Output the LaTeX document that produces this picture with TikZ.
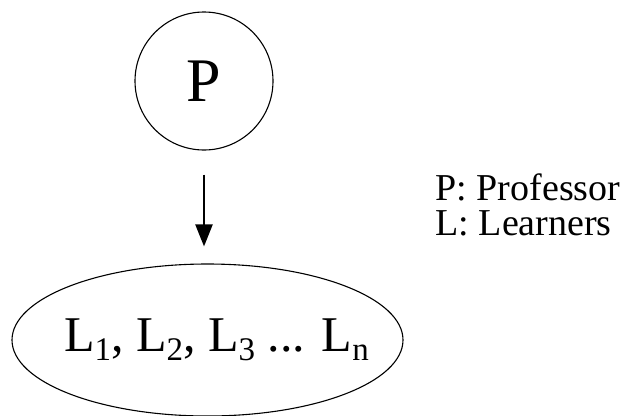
\documentclass[tikz,border=0pt]{standalone}
\usepackage{fontspec}
\setmainfont{Liberation Serif}
\usetikzlibrary{arrows.meta, positioning, shapes.geometric}
\newcommand{\lsub}[1]{\raisebox{-9pt}{\fontsize{33}{33}\selectfont #1}}

\begin{document}
\begin{tikzpicture}[x=1pt,y=-1pt]
    \useasboundingbox (0,0) rectangle (628,415);
    \node[draw,line width=1.1pt,circle,minimum size=138pt,inner sep=0pt,font=\fontsize{62}{62}\selectfont] (prof) at (204,81) {P};
    \node[draw,line width=1.1pt,ellipse,minimum width=391pt,minimum height=152pt,inner sep=0pt,font=\fontsize{50}{50}\selectfont] (learners) at (207.5,340) {\makebox[0pt]{\hspace*{18pt}L\lsub{1}, L\lsub{2}, L\lsub{3} ... L\lsub{n}}};
    \draw[line width=2.2pt,-{Triangle[length=22pt,width=17pt]},shorten <=24pt,shorten >=17pt] (prof.south) -- (prof.south |- learners.north);
    \node[anchor=west,align=left,font=\fontsize{38}{35}\selectfont] (legend) at (432,205) {P: Professor\\L: Learners};
\end{tikzpicture}
\end{document}
